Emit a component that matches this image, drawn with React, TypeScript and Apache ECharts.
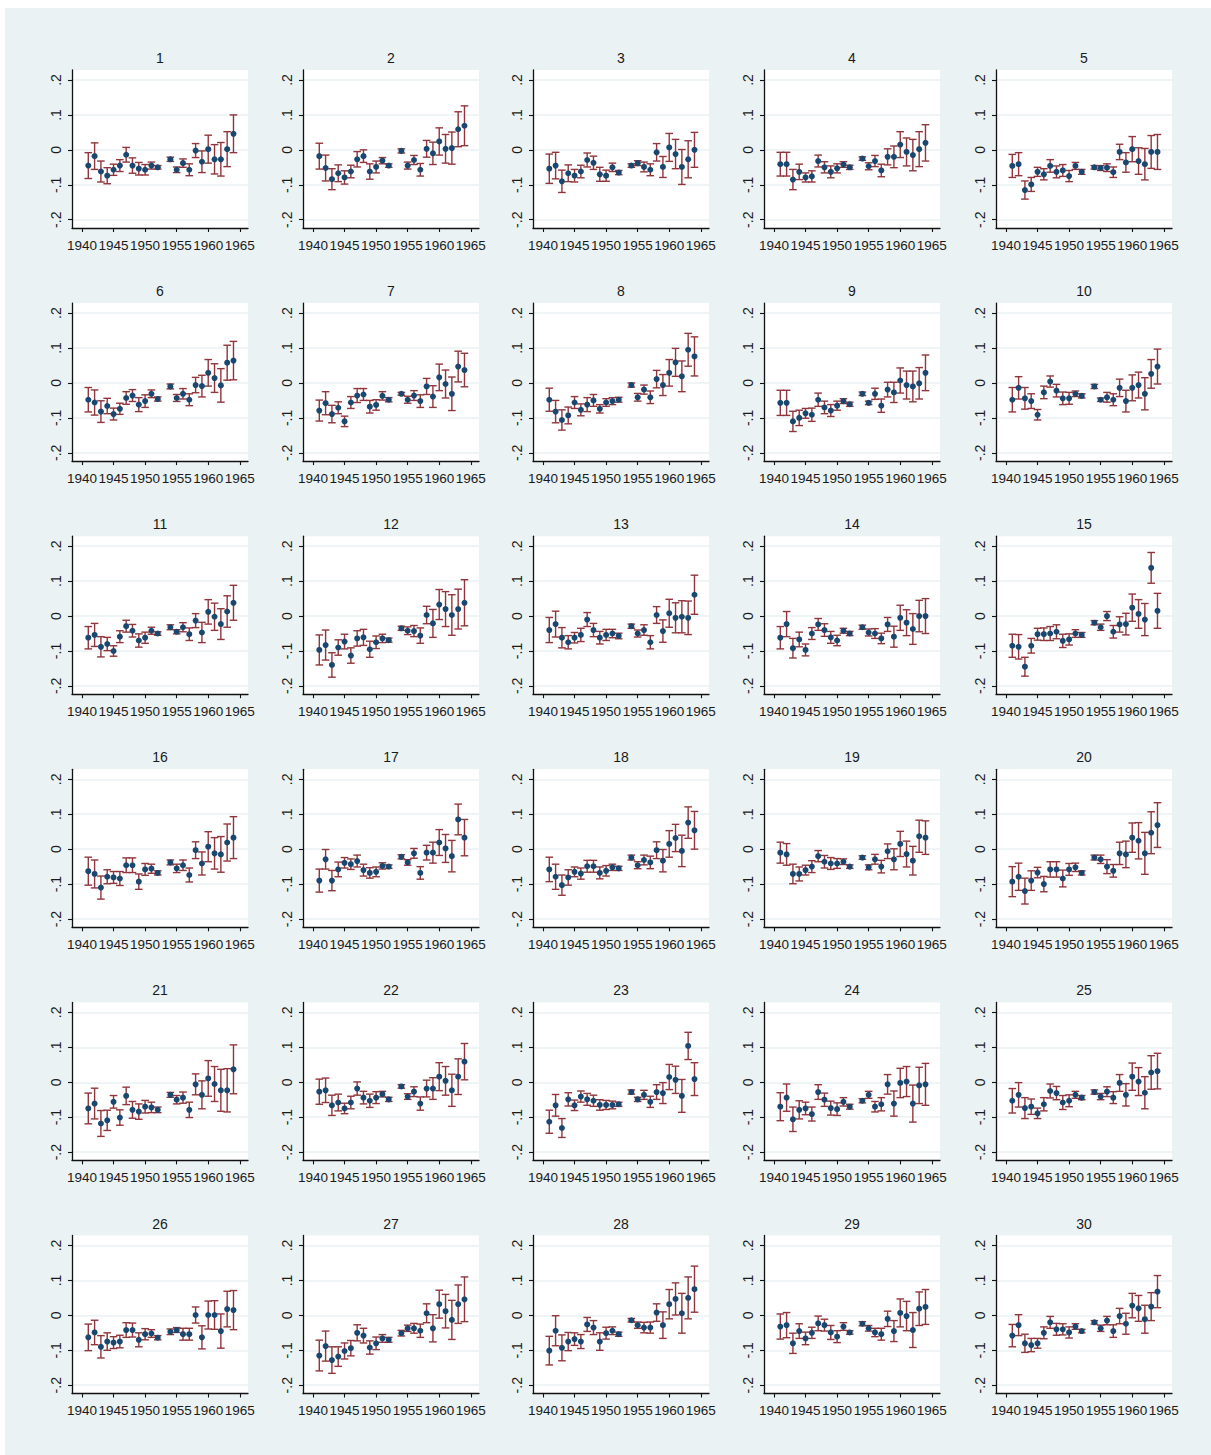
import { useEffect, useRef } from "react";
import * as echarts from "echarts";

const years = [1941, 1942, 1943, 1944, 1945, 1946, 1947, 1948, 1949, 1950, 1951, 1952, 1954, 1955, 1956, 1957, 1958, 1959, 1960, 1961, 1962, 1963, 1964];
const xTickValues = [1940, 1945, 1950, 1955, 1960, 1965];
const yTickValues = [-0.2, -0.1, 0, 0.1, 0.2];
const panelTitles = ["1", "2", "3", "4", "5", "6", "7", "8", "9", "10", "11", "12", "13", "14", "15", "16", "17", "18", "19", "20", "21", "22", "23", "24", "25", "26", "27", "28", "29", "30"];

// point estimates, one row per panel, one value per year
const estimates: number[][] = [
  [-0.045, -0.018, -0.062, -0.074, -0.057, -0.045, -0.014, -0.045, -0.054, -0.057, -0.045, -0.050, -0.027, -0.057, -0.038, -0.057, -0.002, -0.034, 0.002, -0.027, -0.027, 0.002, 0.046],
  [-0.018, -0.052, -0.084, -0.067, -0.079, -0.062, -0.027, -0.018, -0.062, -0.049, -0.031, -0.045, -0.003, -0.045, -0.029, -0.057, 0.003, -0.010, 0.024, 0.003, 0.005, 0.059, 0.069],
  [-0.054, -0.045, -0.090, -0.067, -0.074, -0.062, -0.029, -0.037, -0.070, -0.074, -0.050, -0.065, -0.045, -0.038, -0.049, -0.057, -0.007, -0.049, 0.007, -0.012, -0.049, -0.027, 0.000],
  [-0.041, -0.041, -0.085, -0.063, -0.079, -0.076, -0.032, -0.050, -0.063, -0.053, -0.042, -0.050, -0.025, -0.047, -0.032, -0.059, -0.020, -0.020, 0.015, -0.006, -0.015, 0.002, 0.020],
  [-0.046, -0.041, -0.115, -0.099, -0.063, -0.070, -0.046, -0.063, -0.059, -0.075, -0.046, -0.063, -0.050, -0.052, -0.051, -0.064, -0.006, -0.036, 0.002, -0.032, -0.041, -0.006, -0.006],
  [-0.048, -0.056, -0.082, -0.066, -0.089, -0.074, -0.043, -0.036, -0.062, -0.052, -0.031, -0.046, -0.010, -0.043, -0.031, -0.048, -0.006, -0.009, 0.029, 0.014, -0.007, 0.058, 0.064],
  [-0.079, -0.058, -0.089, -0.071, -0.110, -0.056, -0.036, -0.033, -0.068, -0.063, -0.037, -0.048, -0.031, -0.048, -0.036, -0.052, -0.010, -0.039, 0.016, -0.003, -0.031, 0.047, 0.037],
  [-0.048, -0.082, -0.106, -0.093, -0.056, -0.077, -0.062, -0.050, -0.074, -0.056, -0.052, -0.048, -0.006, -0.041, -0.019, -0.041, 0.011, -0.006, 0.029, 0.059, 0.019, 0.095, 0.076],
  [-0.057, -0.057, -0.110, -0.100, -0.087, -0.091, -0.048, -0.070, -0.079, -0.065, -0.052, -0.061, -0.031, -0.057, -0.031, -0.065, -0.019, -0.027, 0.007, -0.006, -0.010, -0.001, 0.029],
  [-0.048, -0.014, -0.044, -0.052, -0.091, -0.027, 0.004, -0.022, -0.044, -0.044, -0.031, -0.037, -0.010, -0.048, -0.041, -0.048, -0.014, -0.052, -0.014, -0.006, -0.031, 0.026, 0.047],
  [-0.062, -0.054, -0.088, -0.080, -0.100, -0.059, -0.029, -0.042, -0.070, -0.062, -0.042, -0.050, -0.032, -0.045, -0.032, -0.052, -0.013, -0.047, 0.012, -0.002, -0.023, 0.013, 0.038],
  [-0.097, -0.083, -0.140, -0.090, -0.073, -0.113, -0.064, -0.061, -0.095, -0.075, -0.064, -0.069, -0.035, -0.042, -0.043, -0.056, 0.003, -0.021, 0.033, 0.020, 0.003, 0.020, 0.038],
  [-0.040, -0.023, -0.062, -0.075, -0.062, -0.054, -0.010, -0.040, -0.062, -0.054, -0.050, -0.057, -0.029, -0.050, -0.040, -0.075, 0.003, -0.043, 0.008, -0.005, -0.002, -0.005, 0.061],
  [-0.062, -0.023, -0.092, -0.067, -0.097, -0.050, -0.024, -0.040, -0.061, -0.070, -0.042, -0.050, -0.032, -0.047, -0.050, -0.064, -0.024, -0.059, -0.005, -0.019, -0.037, 0.000, 0.000],
  [-0.085, -0.088, -0.145, -0.085, -0.052, -0.052, -0.050, -0.045, -0.071, -0.067, -0.050, -0.054, -0.019, -0.032, 0.000, -0.045, -0.024, -0.023, 0.024, 0.006, -0.010, 0.138, 0.015],
  [-0.063, -0.071, -0.110, -0.079, -0.081, -0.084, -0.046, -0.046, -0.093, -0.058, -0.056, -0.068, -0.038, -0.055, -0.046, -0.074, -0.003, -0.041, 0.007, -0.012, -0.015, 0.019, 0.033],
  [-0.090, -0.029, -0.090, -0.058, -0.039, -0.043, -0.034, -0.060, -0.068, -0.065, -0.048, -0.050, -0.022, -0.038, -0.012, -0.068, -0.010, -0.010, 0.019, 0.002, -0.020, 0.085, 0.033],
  [-0.058, -0.079, -0.103, -0.081, -0.065, -0.070, -0.049, -0.049, -0.068, -0.062, -0.052, -0.055, -0.024, -0.046, -0.031, -0.038, -0.003, -0.033, 0.015, 0.032, -0.005, 0.076, 0.054],
  [-0.010, -0.015, -0.071, -0.071, -0.060, -0.050, -0.020, -0.036, -0.041, -0.041, -0.036, -0.050, -0.024, -0.052, -0.029, -0.050, -0.006, -0.029, 0.015, -0.014, -0.033, 0.037, 0.033],
  [-0.093, -0.079, -0.120, -0.090, -0.067, -0.100, -0.058, -0.058, -0.084, -0.058, -0.052, -0.068, -0.024, -0.029, -0.050, -0.062, -0.012, -0.015, 0.033, 0.024, -0.012, 0.047, 0.069],
  [-0.075, -0.061, -0.118, -0.109, -0.056, -0.101, -0.039, -0.079, -0.084, -0.070, -0.072, -0.079, -0.036, -0.050, -0.044, -0.079, -0.006, -0.036, 0.011, -0.005, -0.023, -0.023, 0.037],
  [-0.027, -0.023, -0.066, -0.058, -0.075, -0.058, -0.018, -0.044, -0.053, -0.044, -0.034, -0.049, -0.012, -0.041, -0.027, -0.061, -0.018, -0.018, 0.016, 0.004, -0.023, 0.016, 0.059],
  [-0.113, -0.066, -0.131, -0.049, -0.066, -0.041, -0.049, -0.053, -0.065, -0.065, -0.065, -0.063, -0.028, -0.049, -0.036, -0.056, -0.028, -0.031, 0.015, 0.007, -0.039, 0.104, 0.009],
  [-0.070, -0.044, -0.106, -0.079, -0.075, -0.091, -0.028, -0.050, -0.074, -0.077, -0.056, -0.070, -0.053, -0.036, -0.070, -0.063, -0.006, -0.061, -0.002, 0.002, -0.061, -0.009, -0.006],
  [-0.053, -0.036, -0.074, -0.070, -0.089, -0.063, -0.025, -0.031, -0.058, -0.053, -0.036, -0.044, -0.028, -0.041, -0.027, -0.044, -0.002, -0.036, 0.016, 0.002, -0.030, 0.028, 0.032],
  [-0.063, -0.049, -0.090, -0.075, -0.078, -0.075, -0.042, -0.042, -0.070, -0.054, -0.052, -0.064, -0.047, -0.042, -0.054, -0.054, 0.001, -0.063, 0.001, 0.001, -0.045, 0.018, 0.015],
  [-0.115, -0.088, -0.128, -0.118, -0.102, -0.094, -0.050, -0.058, -0.092, -0.080, -0.066, -0.070, -0.051, -0.037, -0.037, -0.044, 0.006, -0.037, 0.032, 0.012, -0.013, 0.032, 0.046],
  [-0.101, -0.044, -0.093, -0.075, -0.068, -0.075, -0.026, -0.035, -0.075, -0.051, -0.044, -0.054, -0.014, -0.028, -0.035, -0.035, 0.008, -0.028, 0.032, 0.047, 0.006, 0.050, 0.075],
  [-0.032, -0.028, -0.080, -0.045, -0.066, -0.050, -0.023, -0.028, -0.049, -0.061, -0.032, -0.049, -0.024, -0.037, -0.049, -0.054, -0.010, -0.045, 0.007, -0.002, -0.042, 0.019, 0.024],
  [-0.058, -0.028, -0.080, -0.085, -0.080, -0.050, -0.020, -0.040, -0.040, -0.049, -0.032, -0.045, -0.020, -0.037, -0.015, -0.045, -0.002, -0.024, 0.028, 0.020, -0.011, 0.025, 0.068],
];

// half-widths of the confidence intervals, same layout as estimates
const ciHalfWidths: number[][] = [
  [0.037, 0.038, 0.030, 0.023, 0.016, 0.017, 0.021, 0.022, 0.018, 0.015, 0.010, 0.005, 0.006, 0.008, 0.012, 0.017, 0.020, 0.031, 0.040, 0.042, 0.048, 0.050, 0.054],
  [0.037, 0.037, 0.030, 0.024, 0.019, 0.018, 0.022, 0.018, 0.022, 0.017, 0.009, 0.005, 0.006, 0.010, 0.013, 0.018, 0.024, 0.032, 0.039, 0.041, 0.046, 0.050, 0.057],
  [0.042, 0.038, 0.032, 0.024, 0.018, 0.018, 0.020, 0.019, 0.020, 0.016, 0.012, 0.006, 0.005, 0.007, 0.014, 0.017, 0.025, 0.030, 0.040, 0.042, 0.050, 0.053, 0.050],
  [0.034, 0.034, 0.029, 0.022, 0.013, 0.016, 0.017, 0.016, 0.017, 0.013, 0.008, 0.006, 0.005, 0.010, 0.016, 0.018, 0.023, 0.031, 0.037, 0.040, 0.045, 0.050, 0.052],
  [0.033, 0.033, 0.026, 0.020, 0.013, 0.016, 0.018, 0.017, 0.017, 0.016, 0.010, 0.007, 0.005, 0.007, 0.011, 0.015, 0.022, 0.028, 0.036, 0.038, 0.045, 0.047, 0.050],
  [0.035, 0.036, 0.031, 0.022, 0.017, 0.016, 0.018, 0.017, 0.020, 0.018, 0.011, 0.006, 0.007, 0.010, 0.015, 0.017, 0.022, 0.031, 0.038, 0.041, 0.048, 0.050, 0.055],
  [0.030, 0.033, 0.025, 0.017, 0.015, 0.017, 0.020, 0.017, 0.018, 0.015, 0.012, 0.006, 0.004, 0.010, 0.014, 0.018, 0.023, 0.031, 0.038, 0.040, 0.048, 0.044, 0.048],
  [0.033, 0.032, 0.029, 0.024, 0.017, 0.017, 0.020, 0.017, 0.012, 0.011, 0.010, 0.007, 0.006, 0.011, 0.013, 0.018, 0.025, 0.030, 0.038, 0.040, 0.044, 0.047, 0.056],
  [0.036, 0.036, 0.029, 0.022, 0.014, 0.019, 0.019, 0.018, 0.017, 0.013, 0.007, 0.006, 0.005, 0.005, 0.016, 0.019, 0.021, 0.029, 0.036, 0.040, 0.044, 0.045, 0.051],
  [0.035, 0.032, 0.031, 0.021, 0.015, 0.018, 0.016, 0.018, 0.018, 0.017, 0.008, 0.006, 0.006, 0.005, 0.014, 0.017, 0.025, 0.031, 0.037, 0.037, 0.046, 0.041, 0.050],
  [0.032, 0.033, 0.029, 0.019, 0.015, 0.017, 0.017, 0.018, 0.019, 0.016, 0.010, 0.005, 0.007, 0.006, 0.013, 0.018, 0.020, 0.029, 0.035, 0.039, 0.044, 0.045, 0.050],
  [0.043, 0.043, 0.035, 0.022, 0.021, 0.022, 0.022, 0.023, 0.023, 0.018, 0.012, 0.006, 0.006, 0.011, 0.016, 0.022, 0.025, 0.040, 0.043, 0.050, 0.058, 0.057, 0.066],
  [0.036, 0.037, 0.029, 0.019, 0.015, 0.019, 0.020, 0.019, 0.018, 0.016, 0.012, 0.008, 0.006, 0.010, 0.015, 0.019, 0.024, 0.032, 0.040, 0.043, 0.046, 0.048, 0.056],
  [0.032, 0.036, 0.028, 0.021, 0.017, 0.017, 0.017, 0.018, 0.017, 0.015, 0.007, 0.006, 0.006, 0.010, 0.014, 0.015, 0.020, 0.030, 0.036, 0.037, 0.044, 0.045, 0.050],
  [0.033, 0.035, 0.027, 0.021, 0.017, 0.018, 0.020, 0.020, 0.019, 0.016, 0.011, 0.007, 0.006, 0.009, 0.013, 0.018, 0.022, 0.031, 0.039, 0.041, 0.046, 0.044, 0.050],
  [0.040, 0.040, 0.033, 0.020, 0.017, 0.020, 0.021, 0.021, 0.022, 0.017, 0.013, 0.006, 0.007, 0.012, 0.015, 0.020, 0.024, 0.033, 0.043, 0.045, 0.051, 0.053, 0.060],
  [0.033, 0.028, 0.029, 0.021, 0.015, 0.015, 0.017, 0.017, 0.015, 0.014, 0.009, 0.005, 0.006, 0.008, 0.014, 0.018, 0.021, 0.030, 0.037, 0.040, 0.045, 0.044, 0.052],
  [0.035, 0.036, 0.029, 0.022, 0.014, 0.016, 0.017, 0.017, 0.017, 0.015, 0.009, 0.006, 0.007, 0.010, 0.014, 0.018, 0.024, 0.032, 0.038, 0.039, 0.045, 0.045, 0.054],
  [0.030, 0.031, 0.028, 0.020, 0.014, 0.017, 0.016, 0.018, 0.017, 0.014, 0.008, 0.005, 0.005, 0.007, 0.014, 0.018, 0.021, 0.030, 0.036, 0.037, 0.041, 0.046, 0.048],
  [0.043, 0.039, 0.037, 0.028, 0.015, 0.022, 0.022, 0.022, 0.024, 0.017, 0.012, 0.006, 0.007, 0.012, 0.020, 0.018, 0.032, 0.038, 0.042, 0.052, 0.060, 0.060, 0.064],
  [0.044, 0.044, 0.037, 0.029, 0.018, 0.022, 0.025, 0.024, 0.022, 0.018, 0.015, 0.008, 0.007, 0.012, 0.016, 0.022, 0.030, 0.040, 0.051, 0.050, 0.060, 0.062, 0.070],
  [0.036, 0.035, 0.029, 0.024, 0.015, 0.018, 0.019, 0.018, 0.019, 0.017, 0.008, 0.006, 0.005, 0.008, 0.014, 0.019, 0.024, 0.031, 0.040, 0.041, 0.046, 0.051, 0.052],
  [0.033, 0.031, 0.027, 0.019, 0.015, 0.016, 0.017, 0.016, 0.015, 0.013, 0.011, 0.006, 0.006, 0.006, 0.013, 0.016, 0.021, 0.030, 0.036, 0.039, 0.047, 0.039, 0.047],
  [0.040, 0.039, 0.035, 0.026, 0.018, 0.020, 0.021, 0.019, 0.020, 0.018, 0.012, 0.007, 0.006, 0.010, 0.015, 0.019, 0.028, 0.036, 0.042, 0.043, 0.053, 0.052, 0.060],
  [0.035, 0.035, 0.030, 0.022, 0.015, 0.019, 0.020, 0.019, 0.020, 0.017, 0.010, 0.006, 0.006, 0.009, 0.014, 0.017, 0.024, 0.032, 0.039, 0.040, 0.046, 0.048, 0.051],
  [0.038, 0.035, 0.032, 0.025, 0.017, 0.018, 0.021, 0.020, 0.020, 0.016, 0.011, 0.006, 0.008, 0.007, 0.017, 0.017, 0.023, 0.033, 0.040, 0.041, 0.049, 0.051, 0.056],
  [0.044, 0.043, 0.038, 0.028, 0.023, 0.022, 0.023, 0.021, 0.019, 0.018, 0.011, 0.007, 0.008, 0.009, 0.014, 0.019, 0.027, 0.039, 0.040, 0.048, 0.056, 0.055, 0.064],
  [0.041, 0.043, 0.037, 0.026, 0.018, 0.020, 0.020, 0.020, 0.025, 0.017, 0.011, 0.006, 0.005, 0.009, 0.015, 0.016, 0.025, 0.038, 0.042, 0.046, 0.057, 0.060, 0.066],
  [0.036, 0.036, 0.029, 0.021, 0.018, 0.016, 0.021, 0.017, 0.020, 0.017, 0.011, 0.005, 0.006, 0.008, 0.012, 0.017, 0.022, 0.030, 0.040, 0.042, 0.050, 0.048, 0.050],
  [0.032, 0.030, 0.026, 0.019, 0.014, 0.017, 0.017, 0.017, 0.016, 0.016, 0.008, 0.005, 0.005, 0.009, 0.012, 0.018, 0.022, 0.030, 0.035, 0.037, 0.040, 0.040, 0.046],
];

// ---- layout & style (chart-local pixels; the chart div sits at page (5, 8)) ----
const COLS = 5;
const COL_LEFTS = [67, 298, 528, 759, 991];
const ROW_TOP0 = 62;
const ROW_PITCH = 233.1;
const PLOT_W = 176;
const PLOT_H = 158;
const X_MIN = 1938.42;
const X_MAX = 1966.3;
const Y_MIN = -0.2237;
const Y_MAX = 0.2286;
const BG = "#eaf2f3";
const MARKER = "#1a476f";
const CI_COLOR = "#90353b";
const AXIS_COLOR = "#111111";
const TEXT_COLOR = "#1a1a1a";
const FONT = "'Liberation Sans', Arial, sans-serif";

const yLabel = (v: number) => {
  const r = Math.round(v * 10);
  if (r === 0) return "0";
  return (r < 0 ? "-" : "") + "." + Math.abs(r);
};

export default function App() {
  const ref = useRef<HTMLDivElement>(null);

  useEffect(() => {
    if (!ref.current) return;
    const chart = echarts.init(ref.current, undefined, { renderer: "svg" });

    const grids: any[] = [];
    const xAxes: any[] = [];
    const yAxes: any[] = [];
    const titles: any[] = [];
    const series: any[] = [];

    panelTitles.forEach((t, i) => {
      const r = Math.floor(i / COLS);
      const c = i % COLS;
      const left = COL_LEFTS[c];
      const top = ROW_TOP0 + r * ROW_PITCH;
      grids.push({
        left,
        top,
        width: PLOT_W,
        height: PLOT_H,
        show: true,
        backgroundColor: "#ffffff",
        borderWidth: 0,
        containLabel: false,
      });
      xAxes.push({
        type: "value",
        gridIndex: i,
        min: X_MIN,
        max: X_MAX,
        axisLine: { show: true, onZero: false, lineStyle: { color: AXIS_COLOR, width: 1.3 } },
        axisTick: { show: true, length: 4, customValues: xTickValues, lineStyle: { color: AXIS_COLOR, width: 1.1 } },
        axisLabel: {
          show: true,
          customValues: xTickValues,
          showMinLabel: true,
          showMaxLabel: true,
          hideOverlap: false,
          margin: 10,
          fontSize: 13.5,
          fontFamily: FONT,
          color: TEXT_COLOR,
          formatter: (v: number) => String(Math.round(v)),
        },
        splitLine: { show: false },
      });
      yAxes.push({
        type: "value",
        gridIndex: i,
        min: Y_MIN,
        max: Y_MAX,
        axisLine: { show: true, onZero: false, lineStyle: { color: AXIS_COLOR, width: 1.3 } },
        axisTick: { show: true, length: 4, customValues: yTickValues, lineStyle: { color: AXIS_COLOR, width: 1.1 } },
        axisLabel: {
          show: true,
          customValues: yTickValues,
          showMinLabel: true,
          showMaxLabel: true,
          rotate: 90,
          margin: 9,
          fontSize: 14,
          fontFamily: FONT,
          color: TEXT_COLOR,
          formatter: yLabel,
        },
        splitLine: { show: true, lineStyle: { color: BG, width: 1.6 } },
      });
      titles.push({
        text: t,
        left: left + PLOT_W / 2,
        top: top - 19,
        textAlign: "center",
        padding: 0,
        textStyle: { fontSize: 14, fontWeight: "normal", fontFamily: FONT, color: TEXT_COLOR },
      });

      const est = estimates[i];
      const half = ciHalfWidths[i];
      const ciData = years.map((y, k) => [y, est[k] - half[k], est[k] + half[k]]);
      const pointData = years.map((y, k) => [y, est[k]]);

      series.push({
        type: "custom",
        xAxisIndex: i,
        yAxisIndex: i,
        z: 2,
        encode: { x: 0, y: [1, 2] },
        data: ciData,
        renderItem: (_params: any, api: any) => {
          const x = api.value(0);
          const lo = api.coord([x, api.value(1)]);
          const hi = api.coord([x, api.value(2)]);
          const w = 3.8;
          const style = { stroke: CI_COLOR, lineWidth: 1.4, fill: "none" };
          return {
            type: "group",
            children: [
              { type: "line", shape: { x1: lo[0], y1: lo[1], x2: hi[0], y2: hi[1] }, style },
              { type: "line", shape: { x1: lo[0] - w, y1: lo[1], x2: lo[0] + w, y2: lo[1] }, style },
              { type: "line", shape: { x1: hi[0] - w, y1: hi[1], x2: hi[0] + w, y2: hi[1] }, style },
            ],
          };
        },
      });
      series.push({
        type: "scatter",
        xAxisIndex: i,
        yAxisIndex: i,
        z: 3,
        symbol: "circle",
        symbolSize: 6,
        itemStyle: { color: MARKER, opacity: 1 },
        data: pointData,
      });
    });

    chart.setOption({
      animation: false,
      backgroundColor: BG,
      title: titles,
      grid: grids,
      xAxis: xAxes,
      yAxis: yAxes,
      series,
    });

    return () => chart.dispose();
  }, []);

  return (
    <div
      ref={ref}
      style={{ position: "absolute", left: 5, top: 8, width: 1206, height: 1447 }}
    />
  );
}
